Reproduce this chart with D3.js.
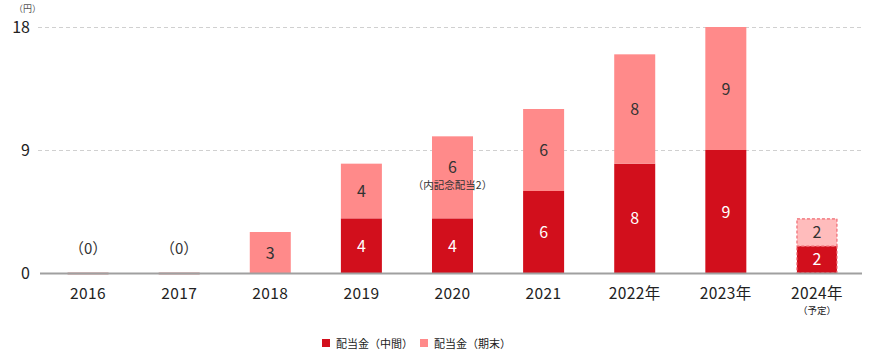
<!DOCTYPE html>
<html><head><meta charset="utf-8">
<script src="https://cdn.jsdelivr.net/npm/d3@7"></script>
<style>
body{margin:0;background:#fff;}
svg{font-family:"Noto Sans CJK JP","Noto Sans",sans-serif;}
</style></head>
<body><svg id="c" width="878" height="350"></svg>
<script>
const categories = ["2016","2017","2018","2019","2020","2021","2022年","2023年","2024年"];
const interim = [0,0,0,4,4,6,8,9,2];
const yearEnd = [0,0,3,4,6,6,8,9,2];
const forecast = [false,false,false,false,false,false,false,false,true];
const zeroLabels = ["（0）","（0）",null,null,null,null,null,null,null];
const yTicks = [0,9,18];
const seriesNames = ["配当金（中間）","配当金（期末）"];
const note2020 = "（内記念配当2）";

const svg = d3.select("#c");
const x = d3.scaleBand().domain(categories).range([42.5,862.5]).paddingInner(0.55).paddingOuter(0.275);
const y = d3.scaleLinear().domain([0,18]).range([273,27]);
const cDark = "#d20f1c", cLight = "#ff8a8a", cLightF = "#ffbcbc";

// grid
svg.append("g").selectAll("line").data(yTicks.filter(d=>d>0)).join("line")
  .attr("x1",38).attr("x2",861).attr("y1",d=>y(d)+0.5).attr("y2",d=>y(d)+0.5)
  .attr("stroke","#d0d0d0").attr("stroke-dasharray","4,3");
svg.append("g").selectAll("text").data(yTicks).join("text")
  .attr("x",30).attr("y",d=>y(d)+6).attr("text-anchor","end")
  .attr("font-size",16).attr("fill","#222").text(d=>d);
svg.append("text").attr("x",14).attr("y",12).attr("font-size",9).attr("fill","#555").text("（円）");

const data = categories.map((c,i)=>({c,a:interim[i],b:yearEnd[i],f:forecast[i],z:zeroLabels[i]}));
const bw = x.bandwidth();
const g = svg.append("g");
data.forEach(d=>{
  const x0 = x(d.c);
  if(d.a===0 && d.b===0){
    g.append("rect").attr("x",x0).attr("width",bw).attr("y",y(0)-0.5).attr("height",2).attr("fill","#c98888");
    g.append("text").attr("x",x0+bw/2).attr("y",y(0)-19).attr("text-anchor","middle")
      .attr("font-size",15).attr("fill","#333").text(d.z);
    return;
  }
  if(d.a>0){
    const r = g.append("rect").attr("x",x0).attr("width",bw).attr("y",y(d.a)).attr("height",y(0)-y(d.a))
      .attr("fill",cDark);
    if(d.f) r.attr("x",x0+0.5).attr("width",bw-1).attr("stroke","#f06a72").attr("stroke-dasharray","3,2").attr("stroke-width",1.2);
    g.append("text").attr("x",x0+bw/2).attr("y",(y(d.a)+y(0))/2+6).attr("text-anchor","middle")
      .attr("font-size",16).attr("fill","#fff").text(d.a);
  }
  if(d.b>0){
    const top = y(d.a+d.b), bot = y(d.a);
    const r = g.append("rect").attr("x",x0).attr("width",bw).attr("y",top).attr("height",bot-top)
      .attr("fill",d.f?cLightF:cLight);
    if(d.f) r.attr("x",x0+0.5).attr("width",bw-1).attr("y",top+0.5).attr("stroke","#f06a72").attr("stroke-dasharray","3,2").attr("stroke-width",1.2);
    const mid = (top+bot)/2;
    if(d.c==="2020"){
      g.append("text").attr("x",x0+bw/2).attr("y",mid-4).attr("text-anchor","middle")
        .attr("font-size",16).attr("fill","#333").text(d.b);
      g.append("text").attr("x",x0+bw/2).attr("y",mid+12).attr("text-anchor","middle")
        .attr("font-size",10.5).attr("fill","#333").text(note2020);
    } else {
      g.append("text").attr("x",x0+bw/2).attr("y",mid+6).attr("text-anchor","middle")
        .attr("font-size",16).attr("fill","#333").text(d.b);
    }
  }
});

// axis line
svg.append("line").attr("x1",40).attr("x2",862).attr("y1",273.5).attr("y2",273.5)
  .attr("stroke","#a0a0a0").attr("stroke-width",2);

// x labels
const xl = svg.append("g").selectAll("g").data(data).join("g");
xl.append("text").attr("x",d=>x(d.c)+bw/2).attr("y",299).attr("text-anchor","middle")
  .attr("font-size",15.5).attr("letter-spacing",0.4).attr("fill","#222").text(d=>d.c);
xl.filter(d=>d.f).append("text").attr("x",d=>x(d.c)+bw/2).attr("y",314).attr("text-anchor","middle")
  .attr("font-size",9.5).attr("fill","#222").text("（予定）");

// legend
const lg = svg.append("g");
const legendItems = [{n:seriesNames[0],c:cDark,x:322},{n:seriesNames[1],c:cLight,x:420}];
legendItems.forEach(it=>{
  lg.append("rect").attr("x",it.x).attr("y",339).attr("width",8).attr("height",8).attr("fill",it.c);
  lg.append("text").attr("x",it.x+14).attr("y",347.5).attr("font-size",11).attr("fill","#222").text(it.n);
});
</script></body></html>
